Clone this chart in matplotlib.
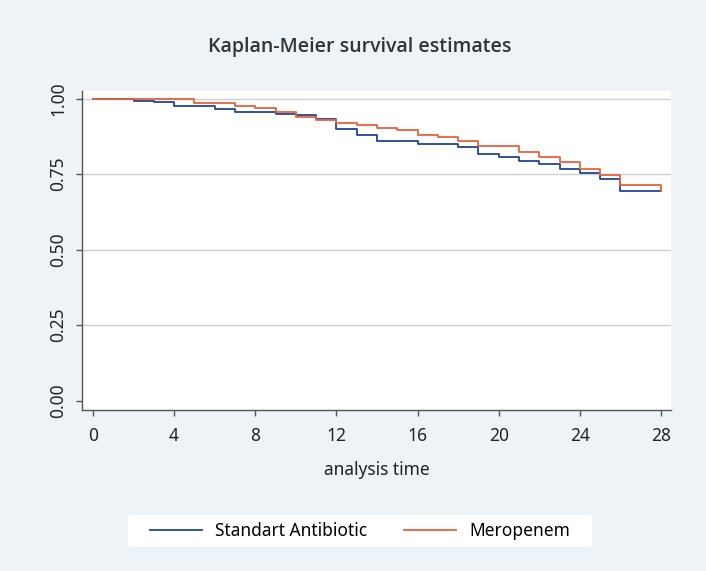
import matplotlib
matplotlib.use("Agg")
import matplotlib.pyplot as plt
from matplotlib.patches import FancyBboxPatch

plt.rcParams["font.family"] = ["Noto Sans", "DejaVu Sans"]

# step change times (days) and survival after each step
std_time = [0, 2, 3, 4, 6, 7, 9, 10, 11, 12, 13, 14, 16, 18, 19, 20, 21, 22, 23, 24, 25, 26, 28]
std_surv = [1.0, 0.993, 0.987, 0.974, 0.966, 0.956, 0.950, 0.944, 0.931, 0.900, 0.880, 0.860,
            0.849, 0.839, 0.817, 0.806, 0.792, 0.783, 0.767, 0.753, 0.735, 0.693, 0.693]

mero_time = [0, 5, 7, 8, 9, 10, 11, 12, 13, 14, 15, 16, 17, 18, 19, 21, 22, 23, 24, 25, 26, 28]
mero_surv = [1.0, 0.984, 0.977, 0.970, 0.954, 0.940, 0.929, 0.920, 0.913, 0.903, 0.896,
             0.878, 0.872, 0.860, 0.843, 0.824, 0.807, 0.789, 0.768, 0.747, 0.714, 0.695]

x_ticks = [0, 4, 8, 12, 16, 20, 24, 28]
y_ticks = [0.0, 0.25, 0.5, 0.75, 1.0]

W, H = 706, 571
bg = "#eef3f7"
fig = plt.figure(figsize=(W / 100, H / 100), dpi=100, facecolor=bg)
ax = fig.add_axes([0.1161, 0.2820, 0.8343, 0.5586])
ax.set_facecolor("white")

ax.step(std_time, std_surv, where="post", color="#1f4596", lw=1.3, label="Standart Antibiotic")
ax.step(mero_time, mero_surv, where="post", color="#ea6139", lw=1.3, label="Meropenem")

ax.set_xlim(-0.54, 28.49)
ax.set_ylim(-0.031, 1.025)
ax.set_xticks(x_ticks)
ax.set_yticks(y_ticks)
ax.set_yticklabels([f"{v:.2f}" for v in y_ticks], rotation=90, va="center")

for v in y_ticks[1:]:
    ax.axhline(v, color="#d0d0d0", lw=1.0, zorder=0)

for side in ("top", "right"):
    ax.spines[side].set_visible(False)
for side in ("left", "bottom"):
    ax.spines[side].set_color("#555555")
    ax.spines[side].set_linewidth(1.0)
ax.tick_params(colors="#555555", labelcolor="#222222", labelsize=12.5, length=4.5, width=1.0)
ax.tick_params(axis="x", pad=8)
ax.tick_params(axis="y", pad=6)

ax.set_xlabel("analysis time", fontsize=12.5, color="#222222", labelpad=11)
fig.suptitle("Kaplan-Meier survival estimates", fontsize=14, fontweight=600,
             family=["Open Sans", "Lato", "DejaVu Sans"],
             color="#333333", x=360 / W, y=1 - 47 / H, va="center")

# legend box drawn separately so it can be wider than the entries
box = FancyBboxPatch((128 / W, 1 - 547 / H), 464 / W, 32 / H,
                     boxstyle="round,pad=0,rounding_size=0.006",
                     transform=fig.transFigure, facecolor="white", edgecolor="none", zorder=0)
fig.patches.append(box)

leg = fig.legend(loc="center", bbox_to_anchor=(0.51, 1 - 531 / H), ncol=2, frameon=False,
                 fontsize=12.5, handlelength=3.0, handletextpad=0.75, columnspacing=2.1,
                 borderpad=0.5, borderaxespad=0)

plt.savefig("out.png", dpi=100, facecolor=bg)
plt.close(fig)
